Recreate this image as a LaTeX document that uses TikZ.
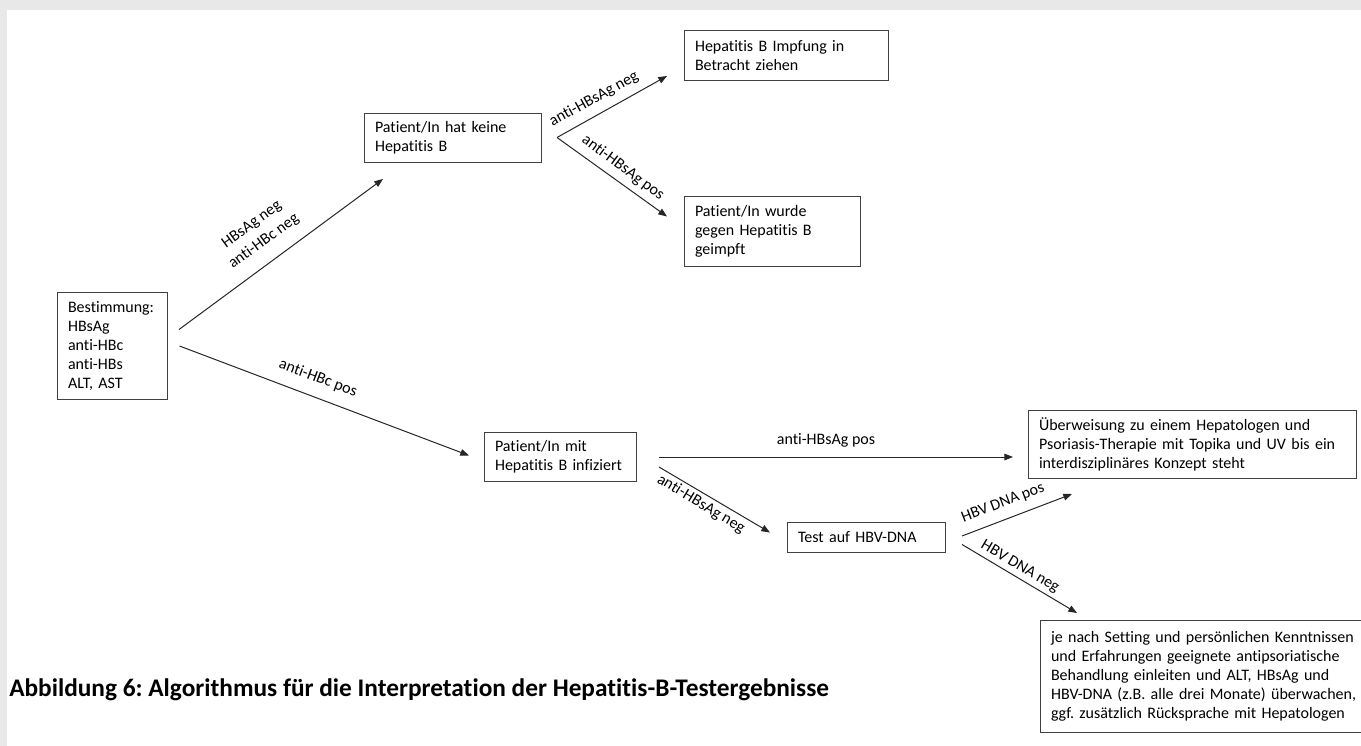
\documentclass[tikz,border=0pt]{standalone}
\usepackage{fontspec}
\setmainfont{Carlito}[Ligatures=NoCommon]
\usetikzlibrary{arrows.meta}
\definecolor{framegray}{HTML}{E8E8E8}
\frenchspacing
\begin{document}
\begin{tikzpicture}[x=0.75pt,y=-0.75pt,
 box/.style={draw=black!75, line width=0.75pt, anchor=north west, inner xsep=7.9pt, inner ysep=0pt, align=left, font=\fontsize{12}{14.2}\selectfont},
 conn/.style={draw=black!85, line width=0.75pt, -{Triangle[length=6.5pt,width=5pt]}},
 lbl/.style={font=\fontsize{12}{15.5}\selectfont, inner sep=0pt, align=center}]
\fill[framegray] (0,0) rectangle (1361,746);
\fill[white] (7,10) rectangle (1361,746);
\useasboundingbox (0,0) rectangle (1361,746);

\node[box, text width=66.7pt, minimum height=80.25pt] (A) at (57,292) {Bestimmung:\\HBsAg\\anti-HBc\\anti-HBs\\ALT, AST};
\node[box, text width=116.95pt, minimum height=36.75pt] (B) at (364,113) {Patient/In hat keine\\Hepatitis B};
\node[box, text width=137.2pt, minimum height=37.5pt] (C) at (684,30) {Hepatitis B Impfung in\\Betracht ziehen};
\node[box, text width=116.2pt, minimum height=52.5pt] (D) at (684,196) {Patient/In wurde\\gegen Hepatitis B\\geimpft};
\node[box, text width=98.2pt, minimum height=36.75pt] (E) at (484,432) {Patient/In mit\\Hepatitis B infiziert};
\node[box, text width=102.7pt, minimum height=22.5pt] (F) at (787,522) {Test auf HBV-DNA};
\node[box, text width=230.5pt, minimum height=51pt] (G) at (1028,410) {Überweisung zu einem Hepatologen und\\Psoriasis-Therapie mit Topika und UV bis ein\\interdisziplinäres Konzept steht};
\node[box, text width=250pt, minimum height=84pt] (H) at (1040,620) {je nach Setting und persönlichen Kenntnissen\\und Erfahrungen geeignete antipsoriatische\\Behandlung einleiten und ALT, HBsAg und\\HBV-DNA (z.B. alle drei Monate) überwachen,\\ggf. zusätzlich Rücksprache mit Hepatologen};

\draw[conn] ([shift={(11,-16.5)}]A.east) -- ([shift={(19,16)}]B.south west);
\draw[conn] ([shift={(11.5,0)}]A.east) -- ([shift={(-15,-1.5)}]E.west);
\draw[conn] ([shift={(15,-0.5)}]B.east) -- ([shift={(-17,-5)}]C.south west);
\draw[conn] ([shift={(15,-0.5)}]B.east) -- ([shift={(-17,-15)}]D.west);
\draw[conn] ([shift={(22,0)}]E.east) -- ([shift={(-15,0)}]E.east -| G.west);
\draw[conn] ([shift={(22,10)}]E.east) -- ([shift={(-17,-5)}]F.west);
\draw[conn] ([shift={(16,-1.5)}]F.east) -- ([shift={(44,15)}]G.south west);
\draw[conn] ([shift={(16,7)}]F.east) -- ([shift={(37,-7)}]H.north west);

\node[lbl, rotate=36] (l1) at (258,233) {HBsAg neg\\anti-HBc neg};
\node[lbl, rotate=-20.5] (l2) at (318,378) {anti-HBc pos};
\node[lbl, rotate=29] (l3) at (594,99) {anti-HBsAg neg};
\node[lbl, rotate=-36.8] (l4) at (623,168) {anti-HBsAg pos};
\node[lbl] (l5) at (826,440) {anti-HBsAg pos};
\node[lbl, rotate=-31] (l6) at (701,504) {anti-HBsAg neg};
\node[lbl, rotate=21] (l7) at (1003,503) {HBV DNA pos};
\node[lbl, rotate=-30.7] (l8) at (1020,567) {HBV DNA neg};

\node[font=\bfseries\fontsize{19}{22}\selectfont, anchor=west, inner sep=0pt] (cap) at (9,690) {Abbildung 6: Algorithmus für die Interpretation der Hepatitis-B-Testergebnisse};
\end{tikzpicture}
\end{document}
